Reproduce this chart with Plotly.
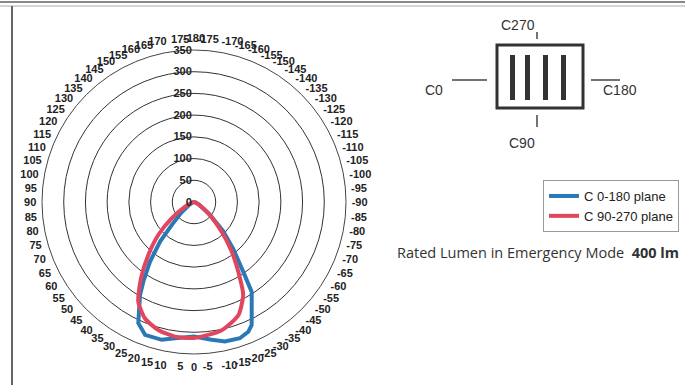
import plotly.graph_objects as go

# C 0-180 plane (blue) - angle in degrees from nadir, candela values
blue_theta = [-90, -75, -62, -52, -45, -40, -35, -32.7, -25.1, -22.7, -18.6, -12.5, -7.3,
              0, 7.9, 13.2, 20.2, 24.7, 30.1, 32.5, 36.4, 40.6, 44.1, 50, 58, 70, 90]
blue_r = [0, 3, 13, 45, 95, 140, 200, 246, 313, 324, 331, 329, 320,
          310, 317, 326, 326, 307, 248, 217, 171, 120, 74, 38, 14, 3, 0]

# C 90-270 plane (red)
red_theta = [-90, -75, -62, -51.7, -43, -37.2, -31.1, -27.9, -21.4, -12.2,
             0, 8, 15.6, 22.8, 29.2, 34.8, 40.8, 47.3, 53.8, 62.4, 75, 90]
red_r = [0, 3, 12, 42, 93, 144, 205, 242, 280, 302,
         313, 313, 306, 291, 263, 214, 161, 112, 64, 23, 5, 0]

radial_ticks = [0, 50, 100, 150, 200, 250, 300, 350]
angle_ticks = list(range(0, 360, 5))
angle_labels = ["<b>%d</b>" % (a if a < 180 else a - 360) for a in angle_ticks]

BLUE = "#2b78b6"
RED = "#e1465f"
W, H = 685, 385


def px(x, y):
    return x / W, 1 - y / H


fig = go.Figure()
fig.add_trace(go.Scatterpolar(
    theta=blue_theta, r=blue_r, mode="lines", name="C 0-180 plane",
    line=dict(color=BLUE, width=4),
))
fig.add_trace(go.Scatterpolar(
    theta=red_theta, r=red_r, mode="lines", name="C 90-270 plane",
    line=dict(color=RED, width=4, shape="spline", smoothing=0.6),
))

cx, cy, rad = 194, 202, 152
fig.update_layout(
    width=W, height=H,
    margin=dict(l=0, r=0, t=0, b=0, autoexpand=False),
    paper_bgcolor="white",
    polar=dict(
        domain=dict(x=[(cx - rad) / W, (cx + rad) / W],
                    y=[1 - (cy + rad) / H, 1 - (cy - rad) / H]),
        bgcolor="white",
        angularaxis=dict(
            rotation=270, direction="clockwise",
            tickvals=angle_ticks, ticktext=angle_labels,
            showgrid=False, ticks="outside", ticklen=3, tickcolor="white",
            showline=True, linecolor="#444", linewidth=1,
            tickfont=dict(family="Liberation Sans", size=11, color="#222"),
        ),
        radialaxis=dict(
            range=[0, 350], tickvals=radial_ticks,
            ticktext=["<b>%d</b>" % v for v in radial_ticks],
            angle=90, tickangle=90,
            showline=False, ticks="", side="counterclockwise",
            gridcolor="#333", gridwidth=1,
            tickfont=dict(family="Liberation Sans", size=11, color="#222"),
        ),
    ),
    legend=dict(
        x=543 / W, y=1 - 180 / H, xanchor="left", yanchor="top",
        bordercolor="#999", borderwidth=1, bgcolor="white",
        font=dict(family="Liberation Sans", size=13, color="#222"),
        tracegroupgap=0, itemwidth=30,
    ),
)

# frame lines
shapes = [
    dict(type="line", xref="paper", yref="paper", x0=0, x1=1,
         y0=px(0, 2)[1], y1=px(0, 2)[1], line=dict(color="#888", width=2)),
    dict(type="line", xref="paper", yref="paper", x0=0, x1=1,
         y0=px(0, 6)[1], y1=px(0, 6)[1], line=dict(color="#aaa", width=1)),
    dict(type="line", xref="paper", yref="paper", x0=px(12, 0)[0], x1=px(12, 0)[0],
         y0=0, y1=px(0, 6)[1], line=dict(color="#666", width=2)),
]

# luminaire diagram
x0, y0 = px(497, 45)
x1, y1 = px(583, 108)
shapes.append(dict(type="rect", xref="paper", yref="paper", x0=x0, y0=y0, x1=x1, y1=y1,
                   line=dict(color="#333", width=3)))
for bx in [510, 525, 543, 561]:
    a, b = px(bx, 55)
    c, d = px(bx + 5, 100)
    shapes.append(dict(type="rect", xref="paper", yref="paper", x0=a, y0=b, x1=c, y1=d,
                       line=dict(width=0), fillcolor="#333"))
for (xa, ya, xb, yb) in [(537, 32, 537, 39), (537, 115, 537, 127),
                         (452, 80, 487, 80), (591, 80, 620, 80)]:
    a, b = px(xa, ya)
    c, d = px(xb, yb)
    shapes.append(dict(type="line", xref="paper", yref="paper", x0=a, y0=b, x1=c, y1=d,
                       line=dict(color="#444", width=1.5)))
fig.update_layout(shapes=shapes)

labels = [("C270", 537, 15), ("C0", 434, 80), ("C180", 639, 80), ("C90", 537, 143)]
for txt, lx, ly in labels:
    ax, ay = px(lx, ly)
    fig.add_annotation(x=ax, y=ay, xref="paper", yref="paper", text=txt, showarrow=False,
                       font=dict(family="Liberation Sans", size=14, color="#333"))

ax, ay = px(395, 252)
fig.add_annotation(x=ax, y=ay, xref="paper", yref="paper", xanchor="left",
                   text="Rated Lumen in Emergency Mode  <b>400 lm</b>", showarrow=False,
                   font=dict(family="Open Sans", size=14.5, color="#333"))

fig.write_html("out.html", config={"displayModeBar": False},
               post_script="document.body.style.margin='0px';")
